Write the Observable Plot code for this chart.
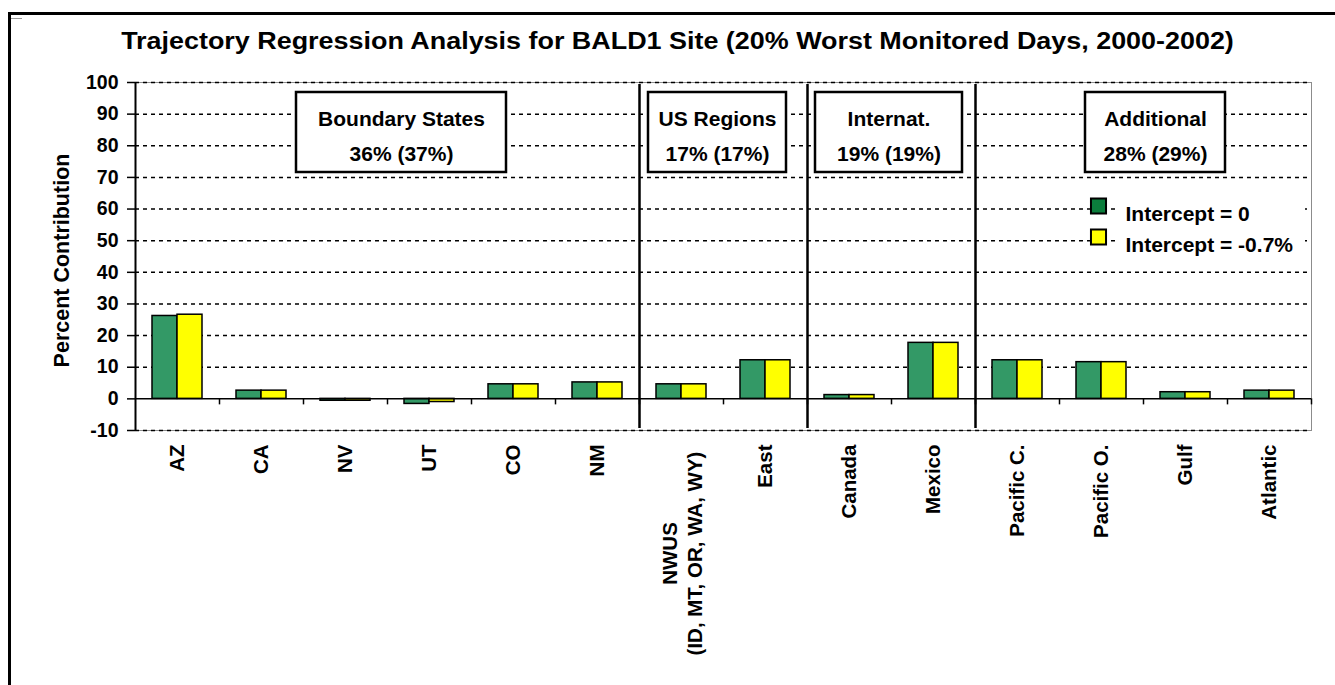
<!DOCTYPE html>
<html>
<head>
<meta charset="utf-8">
<script src="https://cdn.jsdelivr.net/npm/d3@7"></script>
<script src="https://cdn.jsdelivr.net/npm/@observablehq/plot@0.6"></script>
<style>
html, body { margin: 0; padding: 0; background: #fff; overflow: hidden; }
#wrap { position: relative; width: 1335px; height: 685px; font-family: "Liberation Sans", Arial, sans-serif; }
#frame { position: absolute; left: 8px; top: 12px; width: 1340px; height: 690px; border-left: 3px solid #000; border-top: 3px solid #000; }
#mark { position: absolute; left: 11px; top: 18px; width: 11px; height: 1px; background: #999; }
#title { position: absolute; left: 10px; width: 1335px; top: 30px; text-align: center; font-weight: bold; font-size: 23px; line-height: 23px; color: #000; transform: scaleX(1.17); transform-origin: 50% 50%; white-space: nowrap; }
#chart { position: absolute; left: 0; top: 0; }
#chart svg { background: transparent; }
</style>
</head>
<body>
<div id="wrap">
  <div id="frame"></div>
  <div id="mark"></div>
  <div id="title">Trajectory Regression Analysis for BALD1 Site (20% Worst Monitored Days, 2000-2002)</div>
  <div id="chart"></div>
</div>
<script>
// ---- data ----
const categories = ["AZ", "CA", "NV", "UT", "CO", "NM", "NWUS\n(ID, MT, OR, WA, WY)", "East", "Canada", "Mexico", "Pacific C.", "Pacific O.", "Gulf", "Atlantic"];
const seriesNames = ["Intercept = 0", "Intercept = -0.7%"];
const intercept0 = [26.2, 2.6, -0.6, -1.6, 4.6, 5.2, 4.6, 12.2, 1.2, 17.7, 12.2, 11.6, 2.1, 2.6];
const interceptNeg07 = [26.6, 2.6, -0.6, -1.0, 4.6, 5.2, 4.6, 12.2, 1.2, 17.7, 12.2, 11.6, 2.1, 2.6];
const yTicks = [-10, 0, 10, 20, 30, 40, 50, 60, 70, 80, 90, 100];
const groupNames = ["Boundary States", "US Regions", "Internat.", "Additional"];
const groupPcts = ["36% (37%)", "17% (17%)", "19% (19%)", "28% (29%)"];
const groupStarts = ["NWUS\n(ID, MT, OR, WA, WY)", "Canada", "Pacific C."];
const yLabel = "Percent Contribution";

// ---- styles / layout ----
const W = 1335, H = 685;
const M = {top: 82, left: 135, right: 24, bottom: 255};
const barColors = ["#339966", "#ffff00"];
const legendColors = ["#0b7d3c", "#ffff00"];
const barInsets = [{insetLeft: 17, insetRight: 42}, {insetLeft: 42, insetRight: 17}];
const boxLayout = [{x0: 296, x1: 506}, {x0: 648, x1: 786}, {x0: 815, x1: 962}, {x0: 1085, x1: 1225}];
const boxTop = 92, boxBottom = 172;
const font = {fontFamily: "'Liberation Sans', Arial, sans-serif", fontWeight: "bold"};

const rows = categories.flatMap((c, i) => [
  {category: c, series: seriesNames[0], value: intercept0[i]},
  {category: c, series: seriesNames[1], value: interceptNeg07[i]}
]);
const nwus = categories[6];
const frameRight = W - M.right;

const chart = Plot.plot({
  width: W,
  height: H,
  marginTop: M.top,
  marginLeft: M.left,
  marginRight: M.right,
  marginBottom: M.bottom,
  style: {fontFamily: font.fontFamily, fontWeight: "bold", fontSize: "19px", background: "transparent", color: "#000", overflow: "visible"},
  x: {domain: categories, padding: 0, axis: null},
  y: {domain: [-10, 100], axis: null},
  marks: [
    Plot.frame({stroke: "#8c8c8c", strokeWidth: 1}),
    Plot.ruleY(yTicks.filter(d => d !== 0), {stroke: "#000", strokeWidth: 1.5, strokeDasharray: "4,4"}),
    // group boxes
    ...boxLayout.map((b, i) => Plot.rect([groupNames[i]], {
      insetLeft: b.x0 - M.left, insetRight: frameRight - b.x1,
      insetTop: boxTop - M.top, insetBottom: (H - M.bottom) - boxBottom,
      fill: "white", stroke: "black", strokeWidth: 2.5
    })),
    ...boxLayout.map((b, i) => Plot.text([groupNames[i] + "\n" + groupPcts[i]], {
      frameAnchor: "top-left", dx: (b.x0 + b.x1) / 2 - M.left, dy: (boxTop + boxBottom) / 2 - M.top,
      textAnchor: "middle", lineAnchor: "middle", lineHeight: 1.65, fontSize: 21, ...font, fill: "black"
    })),
    // separators
    Plot.ruleX(groupStarts, {x: d => d, dx: -42, insetTop: 2, insetBottom: 2, stroke: "black", strokeWidth: 2.5}),
    // bars
    ...seriesNames.map((s, i) => Plot.barY(rows.filter(r => r.series === s), {
      x: "category", y: "value", fill: barColors[i], stroke: "black", strokeWidth: 1.5, ...barInsets[i]
    })),
    Plot.ruleY([0], {stroke: "black", strokeWidth: 1.5}),
    // category boundary ticks
    Plot.ruleX(categories, {x: d => d, y1: () => 0, y2: () => -1.9, dx: 42, stroke: "black", strokeWidth: 1.5}),
    // y axis line
    Plot.ruleX([categories[0]], {x: d => d, dx: -42, stroke: "black", strokeWidth: 2}),
    Plot.axisY({ticks: yTicks, tickFormat: d => String(d), tickSize: 8, tickPadding: 9, label: null, fontSize: 19.5, ...font, strokeWidth: 1.5}),
    Plot.text([yLabel], {frameAnchor: "left", dx: -73, dy: 4, rotate: -90, textAnchor: "middle", lineAnchor: "middle", fontSize: 21.5, ...font, fill: "black"}),
    // x labels
    Plot.text(categories.filter(c => c !== nwus), {x: d => d, frameAnchor: "bottom", dy: 14, rotate: -90, textAnchor: "end", lineAnchor: "middle", fontSize: 20.5, ...font, fill: "black"}),
    Plot.text([nwus], {x: d => d, frameAnchor: "bottom", dy: 123, rotate: -90, textAnchor: "middle", lineAnchor: "middle", lineHeight: 1.2, fontSize: 20.5, ...font, fill: "black"}),
    // legend
    Plot.rect(["legend"], {insetLeft: 1117 - M.left, insetRight: frameRight - 1305, insetTop: 195 - M.top, insetBottom: (H - M.bottom) - 250, fill: "white"}),
    ...seriesNames.map((s, i) => Plot.dot([s], {frameAnchor: "top-left", dx: 963, dy: 123.5 + 31 * i, symbol: "square", r: 8.5, fill: legendColors[i], stroke: "black", strokeWidth: 2})),
    ...seriesNames.map((s, i) => Plot.text([s], {frameAnchor: "top-left", dx: 990, dy: 123.5 + 31 * i, textAnchor: "start", fontSize: 21, ...font, fill: "black"}))
  ]
});
document.getElementById("chart").appendChild(chart);
</script>
</body>
</html>
